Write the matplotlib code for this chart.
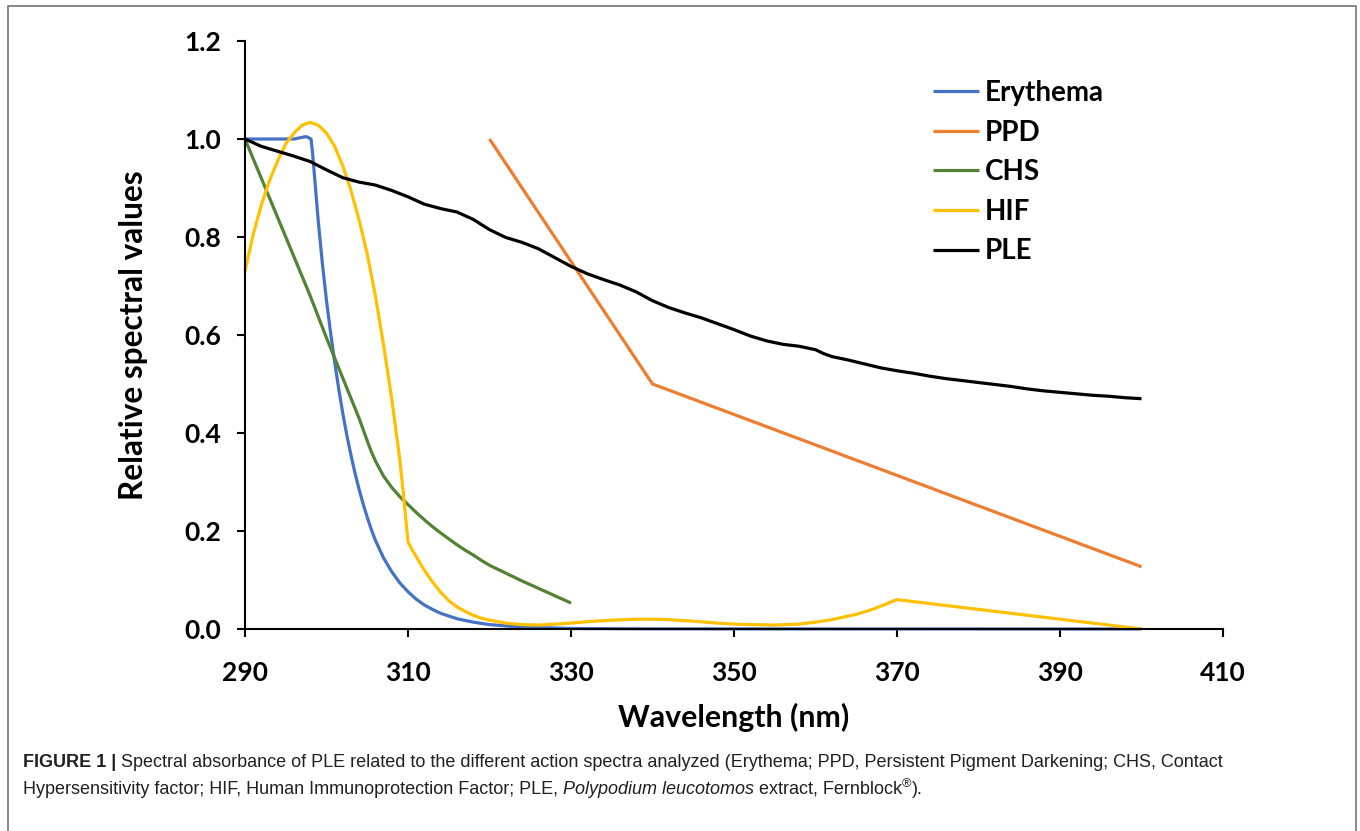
import matplotlib
matplotlib.use("Agg")
import matplotlib.pyplot as plt
from matplotlib.lines import Line2D

# ---------------- data ----------------
erythema_nm = [290, 296, 297.5, 298.1, 298.3, 298.6, 299, 299.5, 300, 300.5, 301, 301.5,
               302, 302.5, 303, 303.5, 304, 304.5, 305, 305.5, 306, 307, 308, 309, 310,
               311, 312, 313, 314, 316, 318, 320, 323, 326, 330, 340, 400]
erythema_val = [1.0, 1.0, 1.005, 1.0, 0.97, 0.91, 0.83, 0.745, 0.67, 0.605, 0.545, 0.49,
                0.44, 0.395, 0.355, 0.318, 0.285, 0.255, 0.228, 0.203, 0.181, 0.145,
                0.117, 0.094, 0.076, 0.061, 0.049, 0.040, 0.032, 0.021, 0.014, 0.009,
                0.005, 0.003, 0.001, 0.0003, 0.0]

ppd_nm = [320, 340, 400]
ppd_val = [1.0, 0.5, 0.127]

chs_nm = [290, 292, 294, 296, 298, 299, 300, 301, 302, 303, 304, 304.5, 305, 305.5, 306,
          307, 308, 309, 310, 311, 312, 313, 314, 315, 316, 317, 318, 319, 320, 322, 324,
          326, 328, 330]
chs_val = [1.0, 0.92, 0.84, 0.76, 0.68, 0.637, 0.594, 0.553, 0.512, 0.471, 0.43, 0.407,
           0.384, 0.362, 0.343, 0.312, 0.289, 0.270, 0.254, 0.238, 0.223, 0.209, 0.196,
           0.184, 0.172, 0.161, 0.151, 0.140, 0.130, 0.114, 0.098, 0.083, 0.068, 0.053]

hif_nm = [290, 291, 292, 293, 294, 295, 296, 297, 298, 299, 300, 301, 302, 303, 304, 305,
          306, 307, 308, 309, 309.5, 310, 310.5, 311, 312, 313, 314, 315, 316, 317, 318,
          319, 320, 322, 324, 326, 328, 330, 332, 335, 338, 340, 342, 345, 348, 350, 352,
          355, 358, 360, 362, 365, 367, 370, 400]
hif_val = [0.73, 0.805, 0.865, 0.915, 0.955, 0.99, 1.012, 1.028, 1.034, 1.028, 1.012,
           0.985, 0.945, 0.895, 0.835, 0.765, 0.68, 0.58, 0.47, 0.345, 0.265, 0.178, 0.162,
           0.148, 0.120, 0.096, 0.075, 0.058, 0.045, 0.036, 0.028, 0.022, 0.018, 0.012,
           0.009, 0.008, 0.010, 0.012, 0.015, 0.018, 0.020, 0.020, 0.019, 0.016, 0.012,
           0.010, 0.009, 0.008, 0.010, 0.014, 0.019, 0.030, 0.040, 0.060, 0.0]

ple_nm = [290, 292, 294, 296, 298, 300, 302, 304, 306, 308, 310, 312, 314, 316, 318, 320,
          322, 324, 326, 328, 330, 332, 334, 336, 338, 340, 342, 344, 346, 348, 350, 352,
          354, 356, 358, 360, 361, 362, 364, 366, 368, 370, 372, 374, 376, 378, 380, 382,
          384, 386, 388, 390, 392, 394, 396, 398, 400]
ple_val = [1.000, 0.985, 0.975, 0.965, 0.954, 0.937, 0.921, 0.912, 0.906, 0.895, 0.882,
           0.867, 0.858, 0.851, 0.836, 0.815, 0.799, 0.789, 0.776, 0.758, 0.740, 0.725,
           0.713, 0.702, 0.688, 0.670, 0.656, 0.645, 0.635, 0.623, 0.611, 0.598, 0.588,
           0.581, 0.577, 0.570, 0.562, 0.556, 0.549, 0.541, 0.533, 0.527, 0.522, 0.516,
           0.511, 0.507, 0.503, 0.499, 0.495, 0.490, 0.486, 0.483, 0.480, 0.477, 0.475,
           0.472, 0.470]

series_names = ["Erythema", "PPD", "CHS", "HIF", "PLE"]
series_colors = ["#4472C4", "#ED7D31", "#548235", "#FFC000", "#000000"]

x_ticks = [290, 310, 330, 350, 370, 390, 410]
y_ticks = [0.0, 0.2, 0.4, 0.6, 0.8, 1.0, 1.2]
x_label = "Wavelength (nm)"
y_label = "Relative spectral values"

# ---------------- figure ----------------
W, H = 1360, 831
fig = plt.figure(figsize=(W / 100, H / 100), dpi=100)
fig.patch.set_facecolor("white")

ax = fig.add_axes([245 / W, 1 - 629 / H, (1223 - 245) / W, (629 - 41) / H])
ax.set_xlim(290, 410)
ax.set_ylim(0, 1.2)

data = [(erythema_nm, erythema_val), (ppd_nm, ppd_val), (chs_nm, chs_val),
        (hif_nm, hif_val), (ple_nm, ple_val)]
for (xs, ys), name, col in zip(data, series_names, series_colors):
    ax.plot(xs, ys, color=col, lw=2.3, label=name, solid_capstyle="butt",
            solid_joinstyle="round", clip_on=False)

font = "Lato"
for s in ["top", "right"]:
    ax.spines[s].set_visible(False)
for s in ["left", "bottom"]:
    ax.spines[s].set_linewidth(1.5)
    ax.spines[s].set_color("black")

ax.set_xticks(x_ticks)
ax.set_yticks(y_ticks)
ax.set_xticklabels([str(t) for t in x_ticks])
ax.set_yticklabels([f"{t:.1f}" for t in y_ticks])
ax.tick_params(axis="both", direction="out", length=6, width=1.5, color="black")
ax.tick_params(axis="x", pad=17)
ax.tick_params(axis="y", pad=11)
for lab in ax.get_xticklabels() + ax.get_yticklabels():
    lab.set_fontfamily(font)
    lab.set_fontweight("bold")
    lab.set_fontsize(19)

ax.set_xlabel(x_label, fontfamily=font, fontweight="bold", fontsize=21.8, labelpad=13)
ax.set_ylabel(y_label, fontfamily=font, fontweight="bold", fontsize=22.7, labelpad=26)

leg = ax.legend(loc="upper left", bbox_to_anchor=(933 / W, 1 - 80 / H),
                bbox_transform=fig.transFigure, frameon=False, borderpad=0,
                borderaxespad=0, handlelength=1.65, handletextpad=0.22,
                labelspacing=0.49, prop={"family": font, "weight": "bold", "size": 20})

# border of the figure panel
border_col = "#7f7f7f"
fig.add_artist(Line2D([7.5 / W, 7.5 / W, 1355.5 / W, 1355.5 / W],
                      [0, 1 - 6 / H, 1 - 6 / H, 0], transform=fig.transFigure,
                      color=border_col, lw=1.3))

# ---------------- caption ----------------
cap_font = "Liberation Sans"
cap_size = 13.0
cap_color = "#231f20"
renderer = fig.canvas.get_renderer()


def put_segments(segments, x0, y0):
    x = x0
    for seg in segments:
        txt, kw, gap, dy = seg
        t = fig.text(x / W, 1 - (y0 + dy) / H, txt, fontfamily=cap_font,
                     color=cap_color, va="baseline", ha="left", **kw)
        bb = t.get_window_extent(renderer)
        x += bb.width + gap


space = 4.8
line1 = [
    ("FIGURE 1 |", dict(fontsize=cap_size, fontweight="bold"), space, 0),
    ("Spectral absorbance of PLE related to the different action spectra analyzed "
     "(Erythema; PPD, Persistent Pigment Darkening; CHS, Contact",
     dict(fontsize=cap_size), 0, 0),
]
line2 = [
    ("Hypersensitivity factor; HIF, Human Immunoprotection Factor; PLE,",
     dict(fontsize=cap_size), space, 0),
    ("Polypodium leucotomos", dict(fontsize=cap_size, fontstyle="italic"), space, 0),
    ("extract, Fernblock", dict(fontsize=cap_size), 0.5, 0),
    ("®", dict(fontsize=cap_size * 0.7), 0.5, -7),
    (").", dict(fontsize=cap_size), 0, 0),
]
put_segments(line1, 23, 767)
put_segments(line2, 23, 794)

fig.savefig("out.png", dpi=100, facecolor="white")
